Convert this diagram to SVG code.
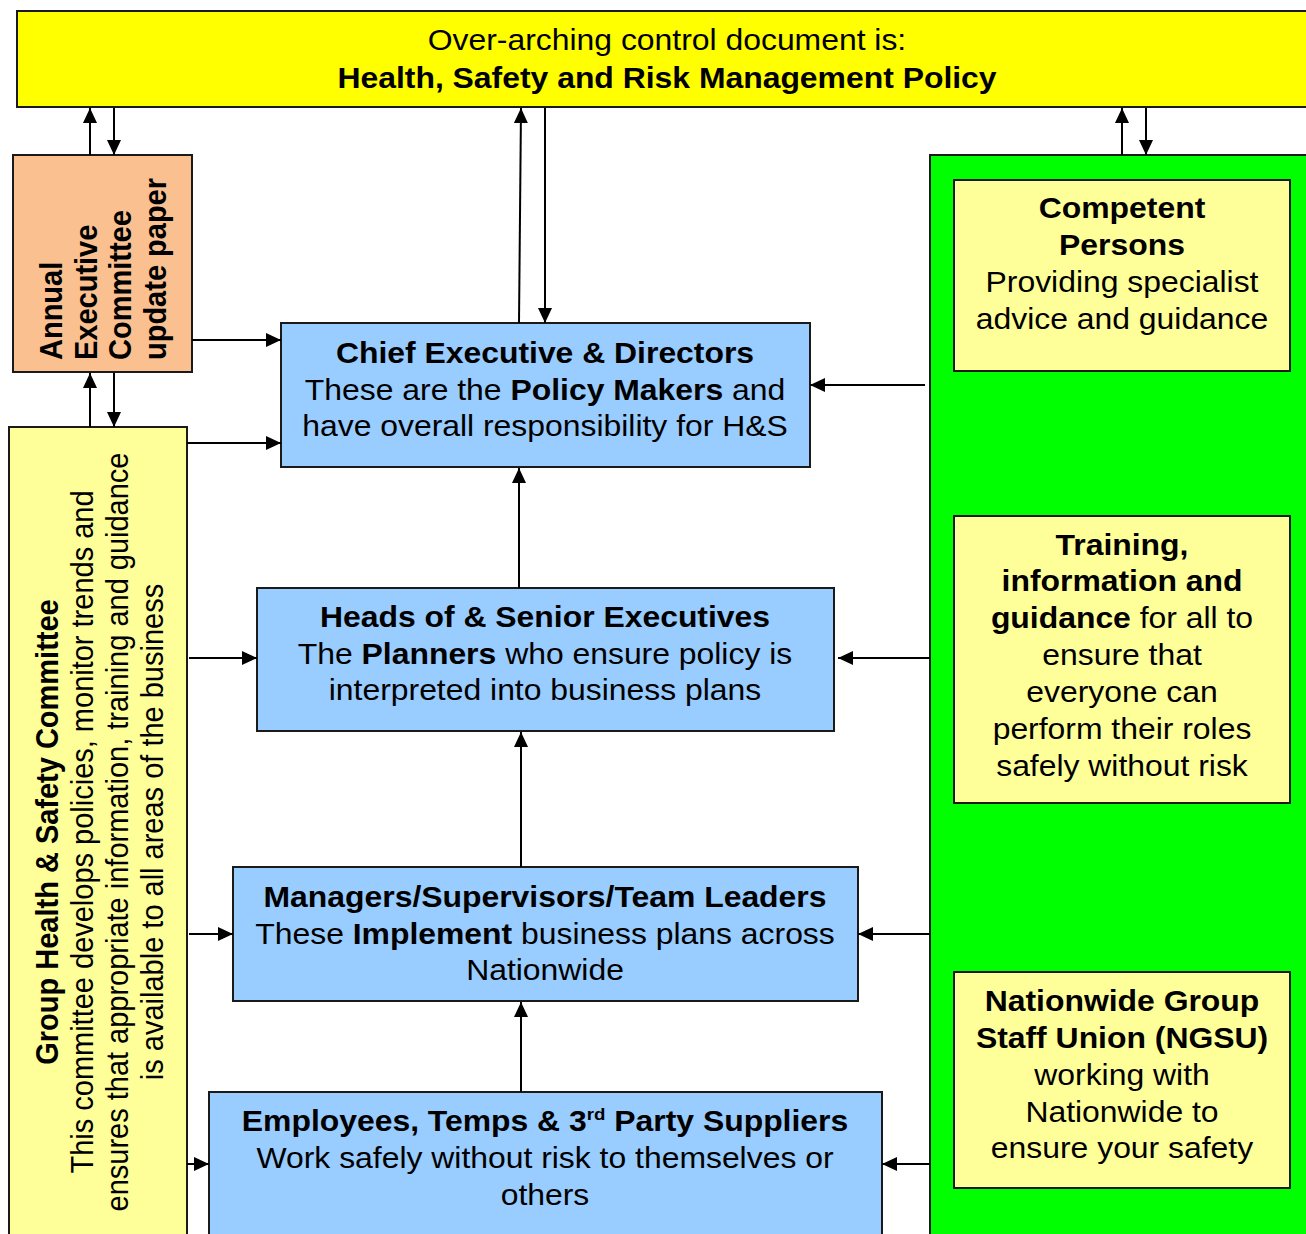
<svg xmlns="http://www.w3.org/2000/svg" width="1306" height="1234" viewBox="0 0 1306 1234">
<style>
text{font-family:"Liberation Sans",Arial,sans-serif;font-size:29px;fill:#000}
.b{font-weight:bold}
.box{stroke:#1a1a1a;stroke-width:2}
.yel{fill:#FFFF00}
.org{fill:#FAC090}
.lt{fill:#FFFF99}
.blu{fill:#99CCFF}
.grn{fill:#00FF00}
.c{stroke:#000;stroke-width:2;fill:none;marker-end:url(#ah)}
</style>
<defs>
<marker id="ah" markerWidth="15" markerHeight="14" refX="15" refY="7" orient="auto" markerUnits="userSpaceOnUse"><path d="M0,0 L15,7 L0,14 z" fill="#000"/></marker>
</defs>
<rect width="1306" height="1234" fill="#fff"/>

<g id="policy">
<rect class="box yel" x="17" y="11" width="1302" height="96"/>
<g transform="translate(667,0) scale(1.1,1)" text-anchor="middle">
<text x="0" y="50">Over-arching control document is:</text>
<text x="0" y="88" class="b">Health, Safety and Risk Management Policy</text>
</g>
</g>

<g id="green-panel">
<rect class="box grn" x="930" y="155" width="390" height="1090"/>
</g>

<g id="annual-paper">
<rect class="box org" x="13" y="155" width="179" height="217"/>
<g class="b">
<text transform="translate(62,360) scale(1.1,1) rotate(-90)">Annual</text>
<text transform="translate(97,360) scale(1.1,1) rotate(-90)">Executive</text>
<text transform="translate(131,360) scale(1.1,1) rotate(-90)">Committee</text>
<text transform="translate(166,360) scale(1.1,1) rotate(-90)">update paper</text>
</g>
</g>

<g id="hs-committee">
<rect class="box lt" x="9" y="427" width="178" height="820"/>
<g text-anchor="middle">
<text class="b" transform="translate(58,832) scale(1.1,1) rotate(-90)">Group Health &amp; Safety Committee</text>
<text transform="translate(93,832) scale(1.1,1) rotate(-90)">This committee develops policies, monitor trends and</text>
<text transform="translate(128,832) scale(1.1,1) rotate(-90)">ensures that appropriate information, training and guidance</text>
<text transform="translate(163,832) scale(1.1,1) rotate(-90)">is available to all areas of the business</text>
</g>
</g>

<g id="chief-exec">
<rect class="box blu" x="281" y="323" width="529" height="144"/>
<g transform="translate(545,0) scale(1.1,1)" text-anchor="middle">
<text x="0" y="363" class="b">Chief Executive &amp; Directors</text>
<text x="0" y="400">These are the <tspan class="b">Policy Makers</tspan> and</text>
<text x="0" y="436">have overall responsibility for H&amp;S</text>
</g>
</g>

<g id="heads">
<rect class="box blu" x="257" y="588" width="577" height="143"/>
<g transform="translate(545,0) scale(1.1,1)" text-anchor="middle">
<text x="0" y="627" class="b">Heads of &amp; Senior Executives</text>
<text x="0" y="664">The <tspan class="b">Planners</tspan> who ensure policy is</text>
<text x="0" y="700">interpreted into business plans</text>
</g>
</g>

<g id="managers">
<rect class="box blu" x="233" y="867" width="625" height="134"/>
<g transform="translate(545,0) scale(1.1,1)" text-anchor="middle">
<text x="0" y="907" class="b">Managers/Supervisors/Team Leaders</text>
<text x="0" y="944">These <tspan class="b">Implement</tspan> business plans across</text>
<text x="0" y="980">Nationwide</text>
</g>
</g>

<g id="employees">
<rect class="box blu" x="209" y="1092" width="673" height="160"/>
<g transform="translate(545,0) scale(1.1,1)" text-anchor="middle">
<text x="0" y="1131" class="b">Employees, Temps &amp; 3<tspan dy="-11" font-size="17">rd</tspan><tspan dy="11"> Party Suppliers</tspan></text>
<text x="0" y="1168">Work safely without risk to themselves or</text>
<text x="0" y="1205">others</text>
</g>
</g>

<g id="competent">
<rect class="box lt" x="954" y="180" width="336" height="191"/>
<g transform="translate(1122,0) scale(1.1,1)" text-anchor="middle">
<text x="0" y="218" class="b">Competent</text>
<text x="0" y="255" class="b">Persons</text>
<text x="0" y="292">Providing specialist</text>
<text x="0" y="329">advice and guidance</text>
</g>
</g>

<g id="training">
<rect class="box lt" x="954" y="516" width="336" height="287"/>
<g transform="translate(1122,0) scale(1.1,1)" text-anchor="middle">
<text x="0" y="555" class="b">Training,</text>
<text x="0" y="591" class="b">information and</text>
<text x="0" y="628"><tspan class="b">guidance</tspan> for all to</text>
<text x="0" y="665">ensure that</text>
<text x="0" y="702">everyone can</text>
<text x="0" y="739">perform their roles</text>
<text x="0" y="776">safely without risk</text>
</g>
</g>

<g id="ngsu">
<rect class="box lt" x="954" y="972" width="336" height="216"/>
<g transform="translate(1122,0) scale(1.1,1)" text-anchor="middle">
<text x="0" y="1011" class="b">Nationwide Group</text>
<text x="0" y="1048" class="b">Staff Union (NGSU)</text>
<text x="0" y="1085">working with</text>
<text x="0" y="1122">Nationwide to</text>
<text x="0" y="1158">ensure your safety</text>
</g>
</g>

<g id="connectors">
<line class="c" x1="90" y1="155" x2="90" y2="108"/>
<line class="c" x1="114" y1="108" x2="114" y2="155"/>
<line class="c" x1="519" y1="323" x2="521" y2="108"/>
<line class="c" x1="545" y1="108" x2="545" y2="323"/>
<line class="c" x1="1122" y1="155" x2="1122" y2="108"/>
<line class="c" x1="1146" y1="108" x2="1146" y2="155"/>
<line class="c" x1="192" y1="340" x2="281" y2="340"/>
<line class="c" x1="90" y1="427" x2="90" y2="373"/>
<line class="c" x1="114" y1="373" x2="114" y2="427"/>
<line class="c" x1="187" y1="443" x2="281" y2="443"/>
<line class="c" x1="189" y1="658" x2="257" y2="658"/>
<line class="c" x1="189" y1="934" x2="233" y2="934"/>
<line class="c" x1="187" y1="1164" x2="209" y2="1164"/>
<line class="c" x1="519" y1="588" x2="519" y2="468"/>
<line class="c" x1="521" y1="867" x2="521" y2="732"/>
<line class="c" x1="521" y1="1092" x2="521" y2="1002"/>
<line class="c" x1="925" y1="385" x2="810" y2="385"/>
<line class="c" x1="930" y1="658" x2="838" y2="658"/>
<line class="c" x1="930" y1="934" x2="858" y2="934"/>
<line class="c" x1="930" y1="1164" x2="882" y2="1164"/>
</g>
</svg>
